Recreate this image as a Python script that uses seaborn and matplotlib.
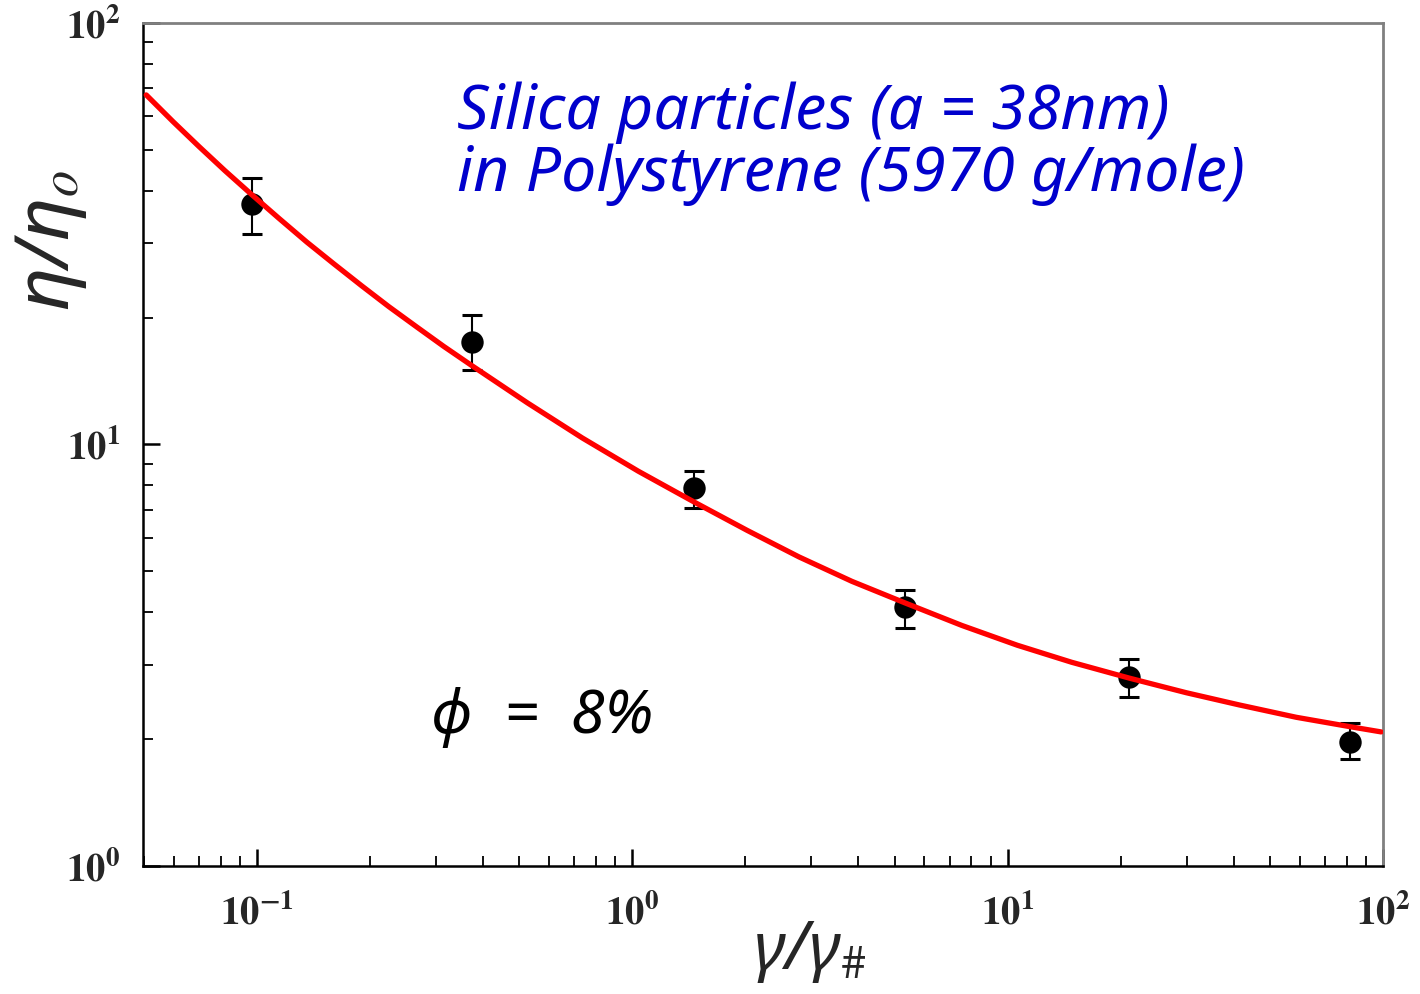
import numpy as np
import pandas as pd
import matplotlib
matplotlib.use("Agg")
import matplotlib.pyplot as plt
import seaborn as sns
from matplotlib.ticker import LogLocator, NullFormatter, FixedLocator

# Measured relative viscosity vs reduced shear rate
shear_ratio = [0.097, 0.373, 1.46, 5.32, 21.1, 81.6]
visc_ratio = [37.2, 17.5, 7.88, 4.12, 2.81, 1.97]
visc_upper = [42.9, 20.3, 8.65, 4.52, 3.10, 2.18]
visc_lower = [31.6, 15.0, 7.07, 3.67, 2.52, 1.79]

# Model curve
model_x = [0.0507, 0.0598, 0.0701, 0.0822, 0.0970, 0.1144, 0.1358, 0.1602,
           0.190, 0.2244, 0.2665, 0.3144, 0.373, 0.5255, 0.736, 1.0375,
           1.462, 2.022, 2.78, 3.846, 5.32, 7.547, 10.6, 14.80, 21.1,
           29.93, 41.4, 58.70, 81.7, 98.8]
model_y = [67.5, 58.3, 50.9, 44.6, 39.1, 34.4, 30.2, 26.83,
           23.8, 21.24, 19.0, 17.09, 15.4, 12.55, 10.36, 8.64,
           7.30, 6.255, 5.41, 4.734, 4.21, 3.721, 3.34, 3.043, 2.79,
           2.576, 2.41, 2.253, 2.14, 2.08]

x_ticks = [0.1, 1, 10, 100]
x_ticklabels = [r"$\mathbf{10^{-1}}$", r"$\mathbf{10^{0}}$",
                r"$\mathbf{10^{1}}$", r"$\mathbf{10^{2}}$"]
y_ticks = [1, 10, 100]
y_ticklabels = [r"$\mathbf{10^{0}}$", r"$\mathbf{10^{1}}$", r"$\mathbf{10^{2}}$"]

sns.set_theme(style="white")
plt.rcParams["font.family"] = ["DejaVu Sans"]
plt.rcParams["mathtext.fontset"] = "stix"

fig = plt.figure(figsize=(14.2, 9.94), dpi=100)
ax = fig.add_axes([0.1007, 0.1288, 0.8733, 0.8481])

points = pd.DataFrame({"x": shear_ratio, "y": visc_ratio})
model = pd.DataFrame({"x": model_x, "y": model_y})

ax.set_xscale("log")
ax.set_yscale("log")

yv = np.array(visc_ratio)
yerr = [yv - np.array(visc_lower), np.array(visc_upper) - yv]
ax.errorbar(shear_ratio, visc_ratio, yerr=yerr, fmt="none", ecolor="black",
            elinewidth=1.5, capsize=7.5, capthick=2.2, zorder=2)
sns.scatterplot(data=points, x="x", y="y", ax=ax, color="black", s=260,
                edgecolor="black", linewidth=0, zorder=3)
sns.lineplot(data=model, x="x", y="y", ax=ax, color="#ff0000", linewidth=3.8,
             sort=False, estimator=None, zorder=4)

ax.set_xlim(0.0497, 100)
ax.set_ylim(1, 100)
ax.set_xlabel("")
ax.set_ylabel("")

for side in ["left", "bottom"]:
    ax.spines[side].set_color("black")
    ax.spines[side].set_linewidth(1.8)
for side in ["top", "right"]:
    ax.spines[side].set_color("#808080")
    ax.spines[side].set_linewidth(2.0)

ax.xaxis.set_major_locator(FixedLocator(x_ticks))
ax.yaxis.set_major_locator(FixedLocator(y_ticks))
ax.xaxis.set_minor_locator(LogLocator(base=10, subs=np.arange(2, 10), numticks=20))
ax.yaxis.set_minor_locator(LogLocator(base=10, subs=np.arange(2, 10), numticks=20))
ax.xaxis.set_minor_formatter(NullFormatter())
ax.yaxis.set_minor_formatter(NullFormatter())

ax.set_xticklabels(x_ticklabels, fontsize=28)
ax.set_yticklabels(y_ticklabels, fontsize=28)

ax.tick_params(which="major", direction="in", length=12, width=1.8, color="black",
               bottom=True, left=True, top=False, right=False)
ax.tick_params(which="minor", direction="in", length=7, width=1.3, color="black",
               bottom=True, left=True, top=False, right=False)
ax.tick_params(axis="x", which="major", pad=20)
ax.tick_params(axis="y", which="major", pad=16)

hand = ["Noto Sans", "DejaVu Sans"]
ax.text(0.253, 0.857, "Silica particles (a = 38nm)\nin Polystyrene (5970 g/mole)",
        transform=ax.transAxes, color="#0000cc", fontsize=45, family=hand,
        style="italic", va="center", ha="left", linespacing=1.0)
ax.text(0.232, 0.176, "ϕ  =  8%", transform=ax.transAxes, color="black",
        fontsize=44, family=hand, style="italic", va="center", ha="left")

fig.text(0.036, 0.758, "η/η$_o$", rotation=90, fontsize=54, family=hand,
         style="italic", ha="center", va="center")
fig.text(0.57, 0.043, "γ/γ$_{\\#}$", fontsize=48, family=hand,
         style="italic", ha="center", va="center")

fig.savefig("out.png", dpi=100)
